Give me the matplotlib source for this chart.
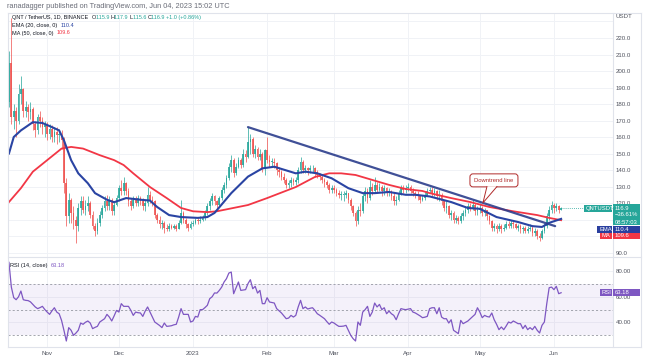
import matplotlib
matplotlib.use("Agg")
import matplotlib.pyplot as plt
import matplotlib.dates as mdates
from matplotlib.patches import Rectangle, Polygon, FancyBboxPatch
from matplotlib.transforms import IdentityTransform
from matplotlib.lines import Line2D
import numpy as np
import pandas as pd

plt.rcParams['font.family'] = ['Liberation Sans', 'DejaVu Sans']

W, H = 646, 359

# ---- data (QNT/USDT daily, Binance) ----
start = "2022-10-16"
first_open = 181
closes = [
    # Oct
    205, 172, 176, 170, 186, 189, 176, 178, 175, 177, 168, 164, 172, 170, 166, 167,
    # Nov
    162, 165, 160, 163, 161, 162, 158, 132, 112, 122, 114, 110, 106, 117, 121, 116, 118, 120, 113, 106,
    103, 108, 113, 117, 121, 118, 122, 115, 119, 123,
    # Dec
    129, 127, 132, 127, 121, 118, 122, 120, 123, 121, 118, 120, 125, 122, 121, 113, 110, 107, 108, 105,
    104, 106, 105, 106, 104, 108, 114, 110, 107, 105, 107,
    # Jan
    108, 110, 109, 110, 111, 114, 118, 121, 124, 121, 119, 123, 128, 131, 135, 142, 146, 138, 142, 146,
    143, 150, 148, 157, 159, 150, 153, 148, 150, 141, 152,
    # Feb
    146, 145, 145, 144, 140, 139, 136, 134, 131, 132, 134, 133, 134, 140, 145, 140, 141, 140, 141, 141,
    139, 137, 136, 134, 133, 131, 128, 129,
    # Mar
    128, 126, 125, 125, 125, 126, 122, 118, 114, 109, 116, 115, 124, 127, 123, 130, 127, 131, 128, 130,
    127, 129, 126, 127, 124, 121, 122, 126, 129, 128, 129,
    # Apr
    130, 127, 126, 125, 124, 122, 123, 125, 127, 128, 126, 127, 124, 125, 121, 117, 118, 113, 114, 110,
    111, 109, 112, 114, 116, 118, 117, 119, 115, 116,
    # May
    117, 114, 116, 112, 109, 105, 106, 104, 106, 104, 105, 107, 106, 108, 107, 105, 106, 104, 105, 103,
    104, 105, 102, 103, 100, 99, 103, 106, 112, 116, 119,
    # Jun
    117, 118, 115.9, 116.9,
]
highs = [
    212, 232, 180, 178, 192, 197, 190, 182, 180, 181, 178, 170, 174, 176, 172, 170,
    169, 168, 167, 166, 166, 165, 164, 160, 135, 126, 123, 118, 112, 120, 124, 124, 122, 124, 121, 115,
    108, 111, 115, 119, 124, 125, 124, 123, 121, 125,
    131, 134, 136, 133, 129, 123, 124, 124, 125, 124, 123, 122, 130, 127, 124, 122, 114, 112, 110, 109,
    107, 108, 107, 107, 107, 110, 122, 115, 111, 108, 109,
    110, 111, 111, 112, 113, 116, 120, 123, 126, 125, 122, 124, 130, 133, 137, 144, 149, 147, 144, 148,
    147, 153, 152, 166, 162, 160, 155, 154, 153, 151, 153,
    160, 149, 147, 147, 145, 142, 140, 138, 135, 134, 136, 135, 136, 142, 148, 146, 143, 142, 143, 143,
    142, 140, 138, 137, 135, 134, 132, 131,
    131, 129, 128, 127, 127, 128, 126, 123, 119, 115, 118, 120, 126, 130, 129, 134, 132, 136, 133, 132,
    131, 131, 130, 129, 128, 126, 124, 128, 131, 131, 131,
    132, 131, 129, 127, 127, 125, 125, 127, 129, 130, 130, 129, 128, 128, 126, 122, 121, 119, 116, 115,
    113, 112, 114, 116, 118, 120, 120, 122, 120, 118,
    120, 118, 117, 116, 113, 110, 108, 107, 108, 107, 107, 109, 109, 110, 109, 108, 107, 107, 106, 106,
    106, 107, 106, 105, 104, 102, 104, 108, 114, 118, 121,
    120, 120, 119, 117.9,
]
lows = [
    178, 168, 165, 160, 168, 180, 172, 172, 170, 171, 164, 160, 162, 166, 162, 160,
    158, 159, 157, 157, 156, 157, 153, 126, 106, 108, 108, 104, 96, 103, 113, 114, 113, 115, 111, 104,
    100, 101, 106, 111, 115, 116, 116, 113, 113, 118,
    121, 125, 125, 125, 118, 116, 117, 118, 118, 119, 116, 115, 118, 120, 118, 111, 108, 105, 104, 102,
    103, 103, 104, 104, 103, 104, 107, 108, 105, 103, 104,
    106, 107, 107, 108, 109, 110, 113, 116, 119, 119, 116, 118, 122, 126, 129, 134, 139, 136, 137, 141,
    141, 142, 145, 147, 150, 148, 147, 146, 146, 139, 137,
    144, 142, 142, 141, 137, 136, 134, 132, 129, 129, 130, 131, 131, 132, 138, 138, 138, 137, 138, 139,
    136, 135, 134, 132, 130, 129, 126, 126,
    126, 124, 123, 122, 121, 123, 120, 116, 112, 106, 107, 112, 114, 121, 120, 122, 125, 126, 126, 127,
    124, 125, 124, 124, 122, 119, 119, 121, 125, 126, 126,
    127, 126, 124, 123, 122, 120, 121, 122, 124, 126, 124, 124, 122, 121, 119, 115, 114, 111, 110, 108,
    108, 107, 108, 110, 112, 114, 115, 116, 113, 113,
    114, 112, 112, 110, 107, 103, 103, 102, 103, 102, 103, 104, 105, 105, 105, 104, 103, 102, 102, 102,
    102, 103, 100, 100, 98, 97, 98, 102, 105, 110, 114,
    114, 115, 114, 115.6,
]
rsi = [
    87, 67.6, 59.3, 57.7, 60, 64.5, 57.7, 57.2, 57, 56, 54, 52, 50.7, 51.5, 52.5, 50,
    48, 46.2, 49, 51.4, 48, 46.7, 41.5, 33.7, 25.3, 35.8, 33.7, 29.7, 31.5, 33.7, 39.4, 38.4, 40, 41,
    39.4, 35, 36, 36.8, 40.2, 41.5, 42.8, 46.2, 44.1, 41, 45, 49.3,
    48, 54.6, 52.5, 52.5, 52.5, 49.3, 45.4, 48, 47.5, 47.3, 44.6, 48.8, 52, 48, 44, 40.2, 38.9, 37.5,
    35.8, 39.4, 36.8, 37, 37.3, 38, 38.4, 44.1, 50.7, 46.2, 46.2, 46.2, 40.2,
    41, 44.6, 44.1, 49.9, 49.9, 51.5, 53.3, 58.5, 60, 63, 62.9, 65, 67.6, 71.6, 74.2, 78.6, 79.4, 62.4,
    67.1, 71.6, 65, 65.3, 65.6, 70.3, 73.4, 66.3, 68.2, 62.9, 65, 54.6, 54.6,
    59.3, 55.9, 55.5, 55.1, 50.7, 49, 47.3, 45, 42.8, 43.3, 45.4, 44.1, 45.4, 52, 57.2, 50.7, 52, 50.4,
    51, 51.4, 49.3, 46.7, 45.5, 44.1, 42.8, 40.5, 38.4, 40.2,
    39.4, 38, 36.8, 36.8, 37, 37.6, 33.7, 29.7, 27.1, 25.3, 40.2, 37.6, 48, 49.9, 52.5, 44.6, 48, 55.1,
    52, 54, 49.9, 51.4, 46.7, 48.8, 46.7, 45.4, 42, 46.7, 50.7, 50.2, 49.9,
    50.3, 50.7, 48, 47.3, 46.2, 45, 43.6, 44, 44.6, 50.7, 51.4, 51.4, 46.7, 51.4, 44.1, 42.8, 42.8, 39.4,
    42, 33.7, 32.4, 31.1, 41.5, 38.9, 40, 41, 42.8, 44.5, 46.2, 51.4,
    48, 43.6, 45.4, 44.5, 44.1, 47.3, 42, 38.4, 34.2, 36.3, 34.2, 37, 40.2, 39.4, 41, 40, 38.9, 38.9,
    35, 37.6, 34.2, 35.8, 34.2, 36.8, 33.7, 31.6, 37.6, 40.2, 54.6, 67.1, 67.6,
    65.6, 68.2, 62.4, 63.18,
]
# moving averages, read at these day offsets from the start
ema_days = [0, 2, 5, 10, 14, 18, 21, 23, 26, 29, 33, 36, 41, 44, 49, 55, 59, 62, 67, 72,
            79, 83, 86, 93, 100, 106, 111, 120, 124, 129, 135, 142, 148, 153, 159, 166, 170, 176, 185, 192,
            197, 204, 213, 219, 223, 226, 231]
ema20 = [150, 160, 164, 169, 168.5, 166, 164, 158, 146, 138, 132, 126, 122, 120.5, 123, 122, 121.5, 117.6, 112.7, 111.5,
         111, 111.5, 114, 126, 136, 141, 142, 138, 139, 138, 135, 129, 126, 126, 126.7, 125, 125, 124, 120.6, 117,
         116.5, 111.5, 108.5, 106, 105.5, 108, 110.4]
ma_days = [0, 5, 10, 16, 22, 26, 31, 38, 44, 48, 52, 59, 66, 72, 77, 83, 87, 100, 108, 120,
           128, 134, 139, 145, 152, 159, 166, 173, 176, 185, 193, 201, 211, 221, 226, 231]
ma50 = [120.6, 129, 139, 146, 153, 154, 153, 149, 146, 143, 138, 129.7, 123, 117, 115, 114.5, 115, 118.8, 123, 129.7,
        135.8, 138, 138, 137, 134, 131, 128.5, 127.3, 126, 123, 120.6, 117.6, 115, 112.7, 111, 109.6]
trend_days = [100, 228.5]
trend_prices = [166, 106]
callout_day = 198.3

price_ticks = [90, 120, 130, 140, 150, 160, 170, 180, 190, 200, 210, 220]
rsi_ticks = [40, 60, 80]
month_starts = ["2022-11-01", "2022-12-01", "2023-01-01", "2023-02-01",
                "2023-03-01", "2023-04-01", "2023-05-01", "2023-06-01"]
month_labels = ["Nov", "Dec", "2023", "Feb", "Mar", "Apr", "May", "Jun"]

UP, DOWN = '#26a69a', '#ef5350'
EMA_C, MA_C, RSI_C = '#2a44a3', '#f23645', '#7e57c2'
GRID, FRAME, TXT = '#f0f2f6', '#e0e3eb', '#50535e'

# ---- figure ----
fig = plt.figure(figsize=(W / 100, H / 100), dpi=100, facecolor='white')
ax = fig.add_axes([8 / W, 1 - 257 / H, (612.5 - 8) / W, (257 - 13) / H])
rx = fig.add_axes([8 / W, 1 - 347 / H, (612.5 - 8) / W, (347 - 257) / H])

t0 = mdates.date2num(pd.Timestamp(start))
dates = t0 + np.arange(len(closes))
o = np.array([first_open] + closes[:-1], dtype=float)
c = np.array(closes, dtype=float)
hi = np.array(highs, dtype=float)
lo = np.array(lows, dtype=float)
col = np.where(c >= o, UP, DOWN)

for a in (ax, rx):
    a.set_xlim(t0 - 0.4, t0 + 252.5)
    for s in a.spines.values():
        s.set_visible(False)
    for m in month_starts:
        a.axvline(mdates.date2num(pd.Timestamp(m)), color=GRID, lw=0.7, zorder=0)

ax.set_ylim(87.3, 235.15)
for v in range(90, 240, 10):
    ax.axhline(v, color=GRID, lw=0.7, zorder=0)

# candles
ax.vlines(dates, lo, hi, colors=col, lw=0.6, alpha=0.85, zorder=2)
ax.bar(dates, np.maximum(np.abs(c - o), 0.3), bottom=np.minimum(o, c), width=0.72,
       color=col, alpha=0.85, linewidth=0, zorder=2)

ax.plot(t0 + np.array(ma_days), ma50, color=MA_C, lw=1.3, zorder=3)
ax.plot(t0 + np.array(ema_days), ema20, color=EMA_C, lw=1.5, zorder=4)
ax.plot(t0 + np.array(trend_days), trend_prices, color='#2b3d8c', lw=1.6, alpha=0.9, zorder=5,
        solid_capstyle='round')
ax.hlines(closes[-1], dates[-1], t0 + 252.5, colors=UP, lw=0.6, linestyles=(0, (1, 1.5)), zorder=1)

ax.set_xticks([])
ax.yaxis.tick_right()
ax.set_yticks(price_ticks)
ax.set_yticklabels([f"{v:.1f}" for v in price_ticks])
ax.tick_params(axis='y', length=0, pad=2.2, labelsize=4.4, labelcolor=TXT)

# RSI pane
rx.set_ylim(20.6, 91.2)
for v in rsi_ticks:
    rx.axhline(v, color=GRID, lw=0.7, zorder=0)
rx.axhspan(30, 70, color=RSI_C, alpha=0.08, lw=0, zorder=0)
for v in (70, 50, 30):
    rx.axhline(v, color='#9598a1', lw=0.6, dashes=(2.5, 2.5), zorder=1)
rx.plot(dates, rsi, color=RSI_C, lw=0.9, zorder=3)
rx.yaxis.tick_right()
rx.set_yticks(rsi_ticks)
rx.set_yticklabels([f"{v:.2f}" for v in rsi_ticks])
rx.tick_params(axis='y', length=0, pad=2.2, labelsize=4.4, labelcolor=TXT)
rx.set_xticks([mdates.date2num(pd.Timestamp(m)) for m in month_starts])
rx.set_xticklabels(month_labels)
rx.tick_params(axis='x', length=0, pad=2.8, labelsize=4.4, labelcolor=TXT)

# frame
def fline(x0, y0, x1, y1, color=FRAME, lw=0.8):
    fig.add_artist(Line2D([x0 / W, x1 / W], [1 - y0 / H, 1 - y1 / H], color=color, lw=lw,
                          transform=fig.transFigure))

fline(8, 13, 641, 13)
fline(8, 347, 641, 347)
fline(8, 13, 8, 347)
fline(641, 13, 641, 347)
fline(612.5, 13, 612.5, 347)
fline(8, 257, 641, 257)

# callout for the trend line
fig.canvas.draw()
r = fig.canvas.get_renderer()
tip_price = trend_prices[0] + (callout_day - trend_days[0]) * (trend_prices[1] - trend_prices[0]) / (trend_days[1] - trend_days[0])
tx, ty = ax.transData.transform((t0 + callout_day, tip_price))
RED = '#b02a2a'
box = FancyBboxPatch((tx - 13, ty + 16), 48, 13, boxstyle='round,pad=0,rounding_size=3',
                     fc='white', ec=RED, lw=0.7, transform=IdentityTransform(), zorder=10)
fig.add_artist(box)
fig.add_artist(Polygon([(tx + 4, ty + 16.6), (tx + 14, ty + 16.6), (tx, ty)], closed=True, fc='white',
                       ec='none', transform=IdentityTransform(), zorder=11))
fig.add_artist(Line2D([tx + 4, tx, tx + 14], [ty + 16.3, ty, ty + 16.3], color=RED, lw=0.7,
                      transform=IdentityTransform(), zorder=12))
fig.text((tx + 11) / W, (ty + 22.5) / H, "Downtrend line", color=RED, fontsize=4.2,
         ha='center', va='center', zorder=13)

# texts
def chain(x, y, parts, size=4.0):
    for s, colr in parts:
        t = fig.text(x / W, 1 - y / H, s, color=colr, fontsize=size, ha='left', va='center')
        x += t.get_window_extent(renderer=r).width

chain(7, 6, [("ranadagger published on TradingView.com, Jun 04, 2023 15:02 UTC", '#6a6d78')], 5.3)
chain(12, 17.5, [("QNT / TetherUS, 1D, BINANCE  ", '#131722'),
                 ("O", '#131722'), ("115.9 ", UP), ("H", '#131722'), ("117.9 ", UP),
                 ("L", '#131722'), ("115.6 ", UP), ("C", '#131722'), ("116.9 ", UP),
                 ("+1.0 (+0.86%)", UP)])
chain(12, 25.5, [("EMA (20, close, 0)  ", '#131722'), ("110.4", EMA_C)])
chain(12, 33, [("MA (50, close, 0)  ", '#131722'), ("109.6", MA_C)])
chain(10, 265.5, [("RSI (14, close)  ", '#131722'), ("63.18", RSI_C)], 4.1)
chain(615, 17, [("USDT", TXT)], 4.4)

# axis price tags
def tag(x0, y0, x1, y1, colr, lines, size=4.2):
    fig.add_artist(Rectangle((x0 / W, 1 - y1 / H), (x1 - x0) / W, (y1 - y0) / H, fc=colr, ec='none',
                             transform=fig.transFigure, zorder=20))
    n = len(lines)
    for i, s in enumerate(lines):
        yy = y0 + (y1 - y0) * (i + 0.5) / n
        fig.text((x0 + 2) / W, 1 - yy / H, s, color='white', fontsize=size, ha='left', va='center', zorder=21)

tag(584, 204.5, 612, 212, UP, ["QNTUSDT"])
tag(613, 204.5, 640, 225.5, UP, ["116.9", "\u221236.61%", "08:57:03"])
tag(597, 226, 612, 232.5, '#2a3f9f', ["EMA"])
tag(613, 226, 640, 232.5, '#2a3f9f', ["110.4"])
tag(600, 232.5, 612, 239, MA_C, ["MA"])
tag(613, 232.5, 640, 239, MA_C, ["109.6"])
tag(600, 289, 612, 296, RSI_C, ["RSI"])
tag(613, 289, 640, 296, RSI_C, ["63.18"])

fig.savefig("out.png", dpi=100, facecolor='white')
